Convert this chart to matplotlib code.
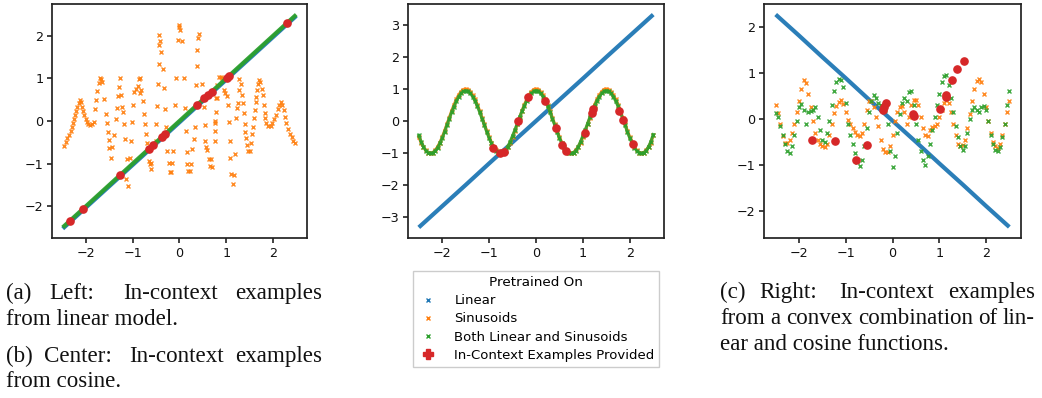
import numpy as np
import matplotlib
matplotlib.use("Agg")
import matplotlib.pyplot as plt
from matplotlib.lines import Line2D

BLUE, ORANGE, GREEN, RED = "#1f77b4", "#ff7f0e", "#2ca02c", "#d62728"

# ---------------- data ----------------
# linear predictions, sampled every 0.5 on x
lin_x = [-2.5, -2.0, -1.5, -1.0, -0.5, 0.0, 0.5, 1.0, 1.5, 2.0, 2.5]
left_blue = [-2.53, -2.03, -1.53, -1.03, -0.53, -0.03, 0.47, 0.97, 1.47, 1.97, 2.47]
left_green = [-2.5, -2.0, -1.5, -1.0, -0.5, 0.0, 0.5, 1.0, 1.5, 2.0, 2.5]
mid_blue = [-3.31, -2.65, -1.99, -1.32, -0.66, 0.0, 0.66, 1.32, 1.99, 2.65, 3.31]
right_blue = [2.28, 1.82, 1.35, 0.89, 0.42, -0.04, -0.50, -0.97, -1.43, -1.90, -2.36]

# sinusoid-pretrained model on the linear prompt (scattered points)
left_orange = [
    (-2.48, -0.58), (-2.44, -0.50), (-2.40, -0.41), (-2.36, -0.32), (-2.33, -0.23),
    (-2.30, -0.14), (-2.28, -0.05), (-2.26, 0.05), (-2.24, 0.14), (-2.21, 0.24),
    (-2.19, 0.34), (-2.16, 0.43), (-2.14, 0.49), (-2.11, 0.44), (-2.08, 0.34),
    (-2.06, 0.24), (-2.04, 0.14), (-2.01, 0.05), (-1.98, -0.02), (-1.95, -0.06),
    (-1.91, -0.09), (-1.87, -0.07), (-1.83, -0.03), (-1.80, 0.28), (-1.78, 0.50),
    (-1.76, 0.70), (-1.73, 0.90), (-1.71, 1.01), (-1.68, 0.98), (-1.66, 0.92),
    (-1.62, 0.52), (-1.58, 0.16), (-1.56, -0.05), (-1.54, -0.25), (-1.52, -0.45),
    (-1.50, -0.64), (-1.46, -0.86), (-1.44, -0.62), (-1.41, -0.33), (-1.36, 0.05),
    (-1.34, 0.30), (-1.32, 0.58), (-1.30, 0.80), (-1.28, 1.01), (-1.26, 0.61),
    (-1.23, 0.34), (-1.21, 0.20), (-1.19, -0.08), (-1.17, -0.43), (-1.13, -0.89),
    (-1.14, -1.37), (-1.10, -1.52), (-1.07, -0.87), (-1.03, -0.48), (-1.01, -0.03),
    (-1.00, 0.37), (-0.97, 0.67), (-0.93, 0.75), (-0.89, 0.83), (-0.87, 0.98),
    (-0.85, 1.00), (-0.84, 0.66), (-0.82, 0.72), (-0.79, 0.47), (-0.77, 0.16),
    (-0.74, -0.08), (-0.71, -0.31), (-0.69, -0.52), (-0.65, -0.94), (-0.63, -1.00),
    (-0.62, -1.12), (-0.60, -0.98), (-0.44, 2.03), (-0.42, 1.87), (-0.43, 1.78),
    (-0.40, 1.63), (-0.44, 1.35), (-0.35, 1.23), (-0.46, 0.88), (-0.33, 0.78),
    (-0.48, 0.36), (-0.30, 0.28), (-0.50, -0.08), (-0.28, -0.13), (-0.51, -0.48),
    (-0.26, -0.70), (-0.23, -0.99), (-0.16, -0.99), (-0.21, -1.19), (-0.18, -1.20),
    (-0.14, -0.70), (-0.10, 0.37), (-0.07, 1.00), (-0.03, 1.90), (0.06, 1.88),
    (-0.02, 2.25), (0.02, 2.15), (0.00, 2.20), (0.11, 0.31), (0.10, 1.00),
    (0.13, -0.23), (0.16, -0.72), (0.16, -1.00), (0.24, -1.00), (0.18, -1.18),
    (0.22, -1.18), (0.27, -0.66), (0.31, -0.42), (0.33, -0.13), (0.37, 1.30),
    (0.38, 1.66), (0.40, 1.94), (0.41, 2.05), (0.35, 0.84), (0.49, 0.88),
    (0.52, 0.33), (0.54, -0.09), (0.55, -0.47), (0.57, -0.62), (0.59, -0.68),
    (0.64, -0.90), (0.68, -0.90), (0.66, -1.05), (0.69, -1.07), (0.76, 0.00),
    (0.78, 0.55), (0.77, -0.47), (0.80, 0.84), (0.84, 1.03), (0.88, 1.04),
    (0.90, 1.00), (0.95, 0.72), (0.98, 0.66), (1.02, 0.59), (0.81, 0.53),
    (1.04, 0.37), (0.78, 0.22), (1.06, -0.02), (0.77, -0.04), (0.77, -0.24),
    (1.08, -0.48), (1.09, -0.86), (1.11, -1.25), (1.16, -1.27), (1.14, -1.49),
    (1.18, -0.78), (1.21, 0.06), (1.23, 0.30), (1.26, 0.42), (1.36, 0.42),
    (1.27, 0.72), (1.33, 0.62), (1.28, 0.98), (1.31, 0.88), (1.38, 0.19),
    (1.40, -0.08), (1.41, -0.25), (1.43, -0.39), (1.45, -0.56), (1.47, -0.71),
    (1.50, -0.70), (1.54, -0.51), (1.56, -0.30), (1.57, -0.13), (1.59, 0.06),
    (1.61, 0.26), (1.63, 0.44), (1.64, 0.57), (1.66, 0.72), (1.68, 0.88),
    (1.71, 0.96), (1.73, 0.92), (1.76, 0.76), (1.78, 0.62), (1.81, 0.37),
    (1.83, 0.18), (1.84, 0.08), (1.86, -0.05), (1.90, -0.11), (1.95, -0.12),
    (1.98, -0.05), (2.02, 0.05), (2.06, 0.15), (2.10, 0.28), (2.13, 0.38),
    (2.17, 0.45), (2.20, 0.38), (2.23, 0.25), (2.26, 0.10), (2.29, -0.05),
    (2.32, -0.18), (2.36, -0.30), (2.40, -0.38), (2.44, -0.46), (2.48, -0.52),
]

# sampled predictions every 0.05 on x, from -2.5 to 2.5 (one row = 0.5 of x)
mid_orange = [
    -0.50, -0.67, -0.81, -0.91, -0.98, -1.00, -0.98, -0.91, -0.81, -0.67,
    -0.50, -0.31, -0.10, 0.10, 0.31, 0.50, 0.67, 0.81, 0.91, 0.98,
    1.00, 0.98, 0.91, 0.81, 0.67, 0.50, 0.31, 0.10, -0.10, -0.31,
    -0.50, -0.67, -0.81, -0.91, -0.98, -1.00, -0.98, -0.91, -0.81, -0.67,
    -0.50, -0.31, -0.10, 0.10, 0.31, 0.50, 0.67, 0.81, 0.91, 0.98,
    1.00, 0.98, 0.91, 0.81, 0.67, 0.50, 0.31, 0.10, -0.10, -0.31,
    -0.50, -0.67, -0.81, -0.91, -0.98, -1.00, -0.98, -0.91, -0.81, -0.67,
    -0.50, -0.31, -0.10, 0.10, 0.31, 0.50, 0.67, 0.81, 0.91, 0.98,
    1.00, 0.98, 0.91, 0.81, 0.67, 0.50, 0.31, 0.10, -0.10, -0.31,
    -0.50, -0.67, -0.81, -0.91, -0.98, -1.00, -0.98, -0.91, -0.81, -0.67,
    -0.45,
]
mid_green = [
    -0.45, -0.64, -0.80, -0.92, -0.99, -1.01, -0.99, -0.93, -0.83, -0.69,
    -0.53, -0.34, -0.13, 0.07, 0.27, 0.45, 0.62, 0.76, 0.86, 0.92,
    0.94, 0.92, 0.86, 0.76, 0.62, 0.46, 0.27, 0.07, -0.13, -0.34,
    -0.53, -0.69, -0.83, -0.93, -0.99, -1.01, -0.99, -0.92, -0.80, -0.64,
    -0.46, -0.28, -0.08, 0.12, 0.30, 0.47, 0.63, 0.76, 0.86, 0.92,
    0.94, 0.92, 0.86, 0.76, 0.62, 0.46, 0.27, 0.07, -0.13, -0.34,
    -0.53, -0.69, -0.83, -0.93, -0.99, -1.01, -0.99, -0.92, -0.80, -0.64,
    -0.46, -0.28, -0.08, 0.12, 0.30, 0.47, 0.63, 0.76, 0.86, 0.92,
    0.94, 0.92, 0.86, 0.76, 0.62, 0.46, 0.27, 0.07, -0.13, -0.34,
    -0.53, -0.69, -0.83, -0.93, -0.99, -1.01, -0.99, -0.92, -0.80, -0.64,
    -0.42,
]
right_orange = [
    0.31, 0.12, -0.12, -0.38, -0.52, -0.52, -0.45, -0.30, -0.10, 0.15,
    0.40, 0.65, 0.84, 0.78, 0.55, 0.25, -0.05, -0.30, -0.45, -0.55,
    -0.60, -0.62, -0.55, -0.35, -0.10, 0.12, 0.28, 0.38, 0.41, 0.32,
    0.15, -0.02, -0.12, -0.20, -0.28, -0.36, -0.38, -0.30, -0.10, 0.20,
    0.40, 0.40, 0.25, 0.05, -0.15, -0.45, -0.65, -0.72, -0.72, -0.60,
    -0.35, -0.05, 0.15, 0.27, 0.28, 0.15, -0.12, 0.05, 0.30, 0.42,
    0.42, 0.30, 0.05, -0.20, -0.34, -0.37, -0.25, -0.18, -0.15, -0.10,
    0.05, 0.20, 0.35, 0.42, 0.35, 0.15, -0.10, -0.35, -0.55, -0.60,
    -0.58, -0.45, -0.20, 0.10, 0.40, 0.65, 0.82, 0.87, 0.80, 0.55,
    0.25, -0.05, -0.30, -0.50, -0.60, -0.63, -0.55, -0.35, -0.10, 0.15,
    0.40,
]
right_green = [
    0.12, 0.05, -0.15, -0.35, -0.55, -0.70, -0.75, -0.60, -0.35, -0.05,
    0.25, 0.33, 0.20, -0.10, 0.15, 0.18, 0.20, 0.25, 0.05, -0.25,
    -0.45, -0.50, -0.30, -0.05, 0.30, 0.60, 0.80, 0.87, 0.85, 0.70,
    0.35, -0.10, -0.35, -0.55, -0.75, -0.95, -1.02, -0.90, -0.60, -0.20,
    0.15, 0.40, 0.52, 0.45, 0.35, 0.30, 0.25, 0.20, -0.10, -0.70,
    -1.04, -0.80, -0.30, 0.10, 0.35, 0.45, 0.40, 0.58, 0.60, 0.30,
    -0.10, -0.45, -0.70, -0.90, -1.00, -0.80, -0.55, -0.25, 0.05, 0.30,
    0.55, 0.80, 0.93, 0.95, 0.75, 0.45, 0.15, -0.15, -0.40, -0.60,
    -0.68, -0.60, -0.30, 0.00, 0.20, 0.25, 0.20, 0.15, 0.25, 0.28,
    0.20, -0.05, -0.35, -0.55, -0.68, -0.70, -0.62, -0.40, -0.10, 0.30,
    0.62,
]

# in-context examples (red)
left_ctx_x = [-2.35, -2.07, -1.28, -0.66, -0.57, -0.37, -0.30, 0.38, 0.53, 0.60, 0.69, 1.02, 1.06, 2.31]
left_ctx_y = [-2.35, -2.07, -1.28, -0.66, -0.57, -0.37, -0.30, 0.38, 0.53, 0.60, 0.69, 1.02, 1.06, 2.31]
mid_ctx_x = [-0.92, -0.76, -0.69, -0.38, -0.18, 0.20, 0.42, 0.55, 0.65, 1.04, 1.19, 1.22, 1.78, 1.86, 2.06]
mid_ctx_y = [-0.83, -1.01, -0.97, 0.01, 0.76, 0.61, -0.23, -0.75, -0.92, -0.36, 0.26, 0.36, 0.32, 0.03, -0.72]
right_ctx_x = [-1.72, -1.24, -0.79, -0.54, -0.21, -0.18, -0.14, 0.44, 0.47, 1.01, 1.14, 1.15, 1.28, 1.39, 1.54]
right_ctx_y = [-0.46, -0.48, -0.90, -0.57, 0.20, 0.26, 0.34, 0.10, 0.07, 0.21, 0.47, 0.53, 0.85, 1.08, 1.27]

legend_title = "Pretrained On"
legend_labels = ["Linear", "Sinusoids", "Both Linear and Sinusoids", "In-Context Examples Provided"]

captions_left = [
    (["(a)", "Left:", "In-context", "examples"], True),
    (["from", "linear", "model."], False),
    (["(b)", "Center:", "In-context", "examples"], True),
    (["from", "cosine."], False),
]
captions_right = [
    (["(c)", "Right:", "In-context", "examples"], True),
    (["from", "a", "convex", "combination", "of", "lin-"], True),
    (["ear", "and", "cosine", "functions."], False),
]

# ---------------- drawing ----------------
W, H = 1042, 398
fig = plt.figure(figsize=(W / 100, H / 100), dpi=100)

grid = np.linspace(-2.5, 2.5, 101)
SPINE = "#222222"


def style(ax):
    for s in ax.spines.values():
        s.set_linewidth(1.25)
        s.set_color(SPINE)
    ax.tick_params(direction="out", length=3.8, width=1.2, labelsize=9.2, pad=2.5,
                   color=SPINE, labelcolor="#111111")
    ax.set_xticks([-2, -1, 0, 1, 2])


def xs(ax, x, y, c, joined=False):
    if joined:
        ax.plot(x, y, color=c, lw=2.2, alpha=0.85)
    ax.plot(x, y, ls="none", marker="x", ms=3.0, mew=1.0, color=c, alpha=0.9)


def line(ax, y, c):
    ax.plot(lin_x, y, color=c, lw=3.0, solid_capstyle="butt", alpha=0.95)


def ctx(ax, x, y):
    ax.plot(x, y, ls="none", marker="o", ms=5.2, color=RED, zorder=5)


top, hgt = 1 - 238 / H, 234 / H
ax1 = fig.add_axes([52 / W, top, 255 / W, hgt])
ax2 = fig.add_axes([408 / W, top, 256 / W, hgt])
ax3 = fig.add_axes([764 / W, top, 257 / W, hgt])

line(ax1, left_blue, BLUE)
ox = [p[0] for p in left_orange]
oy = [p[1] for p in left_orange]
xs(ax1, ox, oy, ORANGE)
line(ax1, left_green, GREEN)
ctx(ax1, left_ctx_x, left_ctx_y)
ax1.set_xlim(-2.73, 2.73)
ax1.set_ylim(-2.75, 2.75)
ax1.set_yticks([-2, -1, 0, 1, 2])

line(ax2, mid_blue, BLUE)
xs(ax2, grid, mid_orange, ORANGE, joined=True)
xs(ax2, grid, mid_green, GREEN, joined=True)
ctx(ax2, mid_ctx_x, mid_ctx_y)
ax2.set_xlim(-2.73, 2.73)
ax2.set_ylim(-3.64, 3.64)
ax2.set_yticks([-3, -2, -1, 0, 1, 2, 3])

line(ax3, right_blue, BLUE)
xs(ax3, grid, right_orange, ORANGE)
xs(ax3, grid, right_green, GREEN)
ctx(ax3, right_ctx_x, right_ctx_y)
ax3.set_xlim(-2.75, 2.75)
ax3.set_ylim(-2.6, 2.51)
ax3.set_yticks([-2, -1, 0, 1, 2])

for a in (ax1, ax2, ax3):
    style(a)

handles = [Line2D([], [], ls="none", marker="x", ms=3.5, mew=1.0, color=c) for c in (BLUE, ORANGE, GREEN)]
handles.append(Line2D([], [], ls="none", marker="P", ms=6.5, color=RED))
fig.legend(handles, legend_labels, title=legend_title, loc="center",
           bbox_to_anchor=(536 / W, 1 - 319 / H), fontsize=9.5, title_fontsize=9.7,
           frameon=True, fancybox=False, edgecolor="#cccccc", framealpha=1,
           handletextpad=1.2, labelspacing=0.4, borderpad=0.35, handlelength=1.6)

# ---------------- captions (justified like the LaTeX source) ----------------
CAP = dict(family="Liberation Serif", fontsize=16.6, va="baseline", ha="left", color="#111111")
renderer = fig.canvas.get_renderer()
SPACE = 0.25 * 16.6 * 100 / 72  # natural interword space in px


def caption(lines, x0, x1, y0, step):
    for i, (words, justify) in enumerate(lines):
        y = 1 - (y0 + step[i]) / H
        if not justify:
            fig.text(x0 / W, y, " ".join(words), **CAP)
            continue
        texts = [fig.text(0, y, w, **CAP) for w in words]
        widths = [t.get_window_extent(renderer).width for t in texts]
        # spaces after a colon stretch twice as much, as TeX does
        weights = [2.0 if w.endswith(":") else 1.0 for w in words[:-1]]
        extra = (x1 - x0 - sum(widths) - SPACE * len(weights)) / sum(weights)
        pos = x0
        for j, (t, w) in enumerate(zip(texts, widths)):
            t.set_x(pos / W)
            if j < len(weights):
                pos += w + SPACE + extra * weights[j]


caption(captions_left, 6, 322, 299, [0, 26, 63, 88])
caption(captions_right, 720, 1035, 298, [0, 26, 52])

fig.savefig("out.png", dpi=100)
